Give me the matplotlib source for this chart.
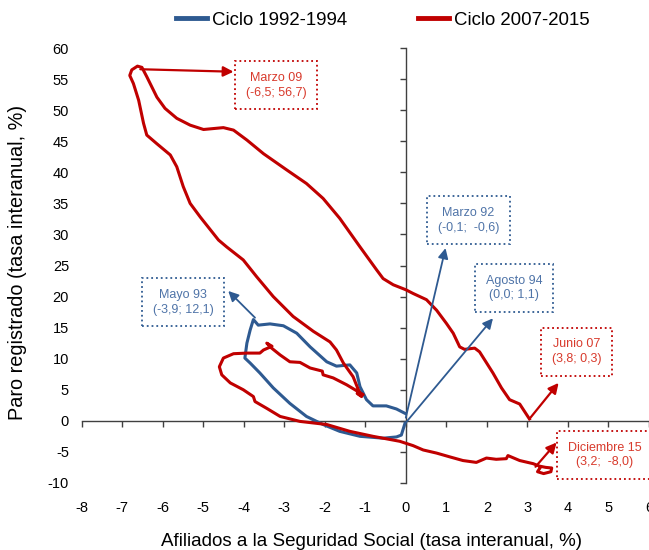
import numpy as np
import matplotlib.pyplot as plt
from matplotlib.lines import Line2D

plt.rcParams['font.family'] = ['Liberation Sans', 'DejaVu Sans']
plt.rcParams['axes.unicode_minus'] = False

# Ciclo 1992-1994 (Afiliados %, Paro %)
x_92 = [-0.02, -0.11, -0.23, -0.56, -1.13, -1.63, -2.04, -2.45, -2.86, -3.27,
        -3.60, -3.84, -3.97, -3.92, -3.84, -3.76, -3.64, -3.35, -3.02, -2.69,
        -2.36, -1.95, -1.71, -1.38, -1.21, -1.13, -0.97, -0.81, -0.48, -0.23, -0.02]
y_92 = [-0.4, -2.3, -2.6, -2.8, -2.5, -1.7, -0.6, 0.7, 2.8, 5.3,
        7.7, 9.3, 10.1, 12.5, 14.6, 16.3, 15.4, 15.6, 15.3, 14.1,
        11.9, 9.5, 8.8, 9.0, 7.7, 5.5, 3.4, 2.4, 2.4, 1.9, 1.2]

# Ciclo 2007-2015
x_07 = [3.05, 2.81, 2.56, 2.36, 2.15, 1.82, 1.70, 1.45, 1.33, 1.17, 1.00, 0.76,
        0.51, 0.18, 0.00, -0.31, -0.56, -0.72, -1.13, -1.63, -2.04, -2.45,
        -2.94, -3.51, -3.92, -4.25, -4.50, -4.99, -5.32, -5.65, -5.94, -6.14,
        -6.39, -6.51, -6.62, -6.76, -6.81, -6.72, -6.59, -6.47, -6.39, -6.14,
        -5.81, -5.65, -5.49, -5.32, -5.07, -4.62, -4.42, -4.01, -3.68, -3.27,
        -2.78, -2.28, -1.87, -1.71, -1.54, -1.30, -1.17, -1.09, -1.20, -1.05,
        -1.46, -1.79, -2.04, -2.06, -2.36, -2.61, -2.86, -3.10, -3.31, -3.43,
        -3.30, -3.51, -3.60, -3.92, -4.25, -4.50, -4.60, -4.54, -4.33, -4.01,
        -3.76, -3.72, -3.43, -3.10, -2.61, -1.95, -1.38, -0.81, -0.15, 0.18,
        0.43, 0.76, 1.08, 1.41, 1.74, 1.99, 2.23, 2.48, 2.52, 2.81, 3.14, 3.30,
        3.45, 3.60, 3.58, 3.40, 3.25, 3.30]
y_07 = [0.3, 2.7, 3.4, 5.3, 7.7, 11.1, 11.7, 11.5, 11.9, 14.1, 15.7, 17.8,
        19.5, 20.5, 21.1, 21.9, 22.9, 24.3, 28.0, 32.6, 35.8, 38.2,
        40.4, 43.0, 45.2, 46.8, 47.2, 46.9, 47.6, 48.7, 50.3, 52.1,
        55.4, 56.9, 57.1, 56.5, 55.6, 54.3, 51.6, 47.9, 46.0, 44.6,
        42.8, 40.9, 37.7, 35.0, 32.8, 29.1, 28.0, 25.9, 23.2, 20.0,
        16.8, 14.4, 12.7, 11.4, 9.3, 7.1, 5.0, 3.9, 4.4, 4.2,
        5.8, 6.9, 7.4, 8.0, 8.5, 9.4, 9.5, 10.6, 11.7, 12.5,
        12.0, 11.4, 10.9, 10.9, 10.8, 10.1, 8.7, 7.4, 6.1, 5.0,
        3.9, 3.1, 2.0, 0.7, -0.1, -0.6, -1.7, -2.5, -3.3, -4.0,
        -4.7, -5.2, -5.8, -6.4, -6.7, -6.0, -6.2, -6.1, -5.6, -6.4, -6.9, -7.3,
        -7.5, -7.6, -8.2, -8.5, -8.2, -7.7]

xticks = np.arange(-8, 7, 1)
yticks = np.arange(-10, 61, 5)

blue = '#2E5A91'
red = '#C00000'
blue_txt = '#4F74A8'
red_txt = '#D83A2C'
axis_col = '#404040'

fig = plt.figure(figsize=(6.49, 5.5), dpi=100)
ax = fig.add_axes([0.1256, 0.122, 0.8744, 0.7905])
ax.set_xlim(-8, 6)
ax.set_ylim(-10, 60)
for s in ax.spines.values():
    s.set_visible(False)
ax.set_xticks(xticks)
ax.set_yticks(yticks)
ax.tick_params(axis='both', length=0, labelsize=10.5, colors='black')
ax.tick_params(axis='x', pad=13)
ax.tick_params(axis='y', pad=9)

# axes crossing at zero
ax.plot([-8, 6], [0, 0], color=axis_col, lw=1, zorder=1, clip_on=False)
ax.plot([0, 0], [-10, 60], color=axis_col, lw=1, zorder=1, clip_on=False)
ax.plot(xticks, np.zeros(len(xticks)), ls='none', marker=3, ms=4, mew=1,
        color=axis_col, zorder=1, clip_on=False)
ax.plot(np.zeros(len(yticks)), yticks, ls='none', marker=0, ms=4, mew=1,
        color=axis_col, zorder=1, clip_on=False)

ax.plot(x_92, y_92, color=blue, lw=2.2, solid_joinstyle='round', zorder=3)
ax.plot(x_07, y_07, color=red, lw=2.2, solid_joinstyle='round', zorder=4)

# labels with arrows: (text, tail, head, box centre, colour set)
notes = [
    ('Marzo 09\n(-6,5; 56,7)', (-6.55, 56.6), (-4.25, 56.2), (-3.20, 54.0), 'r'),
    ('Mayo 93\n(-3,9; 12,1)', (-3.72, 16.6), (-4.38, 20.9), (-5.49, 19.1), 'b'),
    ('Marzo 92\n(-0,1;  -0,6)', (0.0, 0.5), (0.98, 27.8), (1.55, 32.3), 'b'),
    ('Agosto 94\n(0,0; 1,1)', (0.0, -0.3), (2.15, 16.5), (2.68, 21.4), 'b'),
    ('Junio 07\n(3,8; 0,3)', (3.05, 0.3), (3.77, 6.1), (4.21, 11.1), 'r'),
    ('Diciembre 15\n(3,2;  -8,0)', (3.20, -7.4), (3.72, -3.5), (4.90, -5.5), 'r'),
]
for txt, tail, head, centre, c in notes:
    line_c = red if c == 'r' else blue
    txt_c = red_txt if c == 'r' else blue_txt
    ax.annotate('', xy=head, xytext=tail,
                arrowprops=dict(arrowstyle='-|>,head_length=0.6,head_width=0.3',
                                color=line_c, lw=1.6 if c == 'r' else 1.3,
                                shrinkA=0, shrinkB=0), zorder=5)
    ax.text(centre[0], centre[1], txt, ha='center', va='center', fontsize=9,
            color=txt_c, linespacing=1.3, zorder=6, clip_on=False,
            bbox=dict(boxstyle='square,pad=0.85', fc='white', ec=line_c,
                      ls=':', lw=1.3))

handles = [Line2D([], [], color=blue, lw=3.5), Line2D([], [], color=red, lw=3.5)]
fig.legend(handles, ['Ciclo 1992-1994', 'Ciclo 2007-2015'], ncol=2,
           loc='center', bbox_to_anchor=(383 / 649, 1 - 20 / 550), frameon=False,
           fontsize=13.4, handlelength=1.67, handletextpad=0.27,
           columnspacing=3.8, borderpad=0, borderaxespad=0)

fig.text(18 / 649, 1 - 262 / 550, 'Paro registrado (tasa interanual, %)',
         rotation=90, ha='center', va='center', fontsize=14.3)
fig.text(372 / 649, 1 - 541 / 550,
         'Afiliados a la Seguridad Social (tasa interanual, %)',
         ha='center', va='center', fontsize=13.5)

fig.savefig('out.png', dpi=100)
